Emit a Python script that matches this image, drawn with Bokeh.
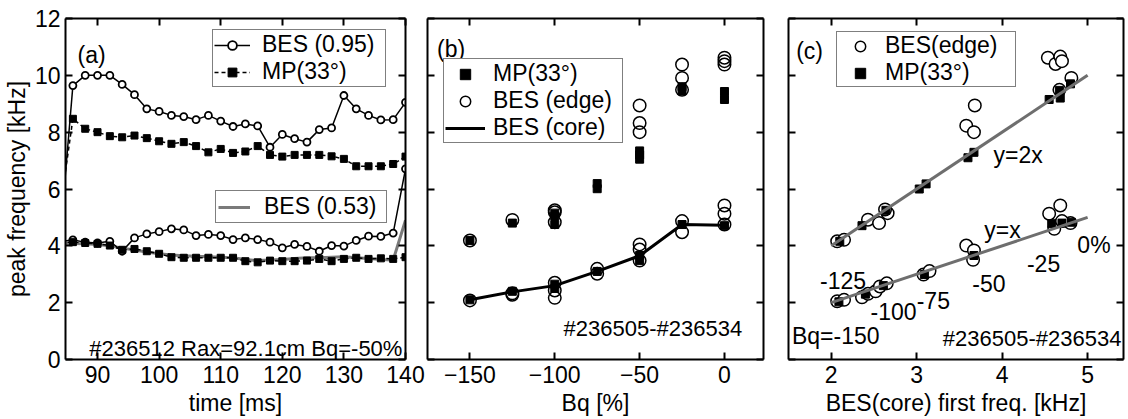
from bokeh.plotting import figure
from bokeh.models import (Range1d, LinearAxis, FixedTicker, Legend, LegendItem,
                          CustomJSTickFormatter)
from bokeh.layouts import row
from bokeh.embed import file_html
from bokeh.resources import INLINE
from bokeh.core.properties import value

FONT = "Liberation Sans"

# ---------------- panel (a): time traces, shot #236512 ----------------
time_ms = [84, 86, 88, 90, 92, 94, 96, 98, 100, 102, 104, 106, 108, 110, 112,
           114, 116, 118, 120, 122, 124, 126, 128, 130, 132, 134, 136, 138, 140]
bes095_hi = [4.5, 9.64, 10.0, 10.0, 10.0, 9.68, 9.32, 8.82, 8.73, 8.59, 8.55, 8.44,
             8.59, 8.39, 8.20, 8.29, 8.22, 7.47, 7.92, 7.77, 7.65, 8.09, 8.15, 9.29,
             8.82, 8.59, 8.43, 8.44, 9.05]
mp_hi = [5.4, 8.47, 8.12, 8.00, 7.86, 7.82, 7.88, 7.79, 7.68, 7.59, 7.65, 7.51,
         7.29, 7.41, 7.27, 7.32, 7.51, 7.20, 7.14, 7.20, 7.20, 7.20, 7.15, 7.06,
         6.80, 6.80, 6.80, 6.88, 7.14]
bes095_lo = [4.15, 4.21, 4.13, 4.10, 4.16, 3.81, 4.28, 4.42, 4.50, 4.60, 4.56, 4.36,
             4.40, 4.36, 4.22, 4.28, 4.22, 4.13, 3.93, 4.05, 3.98, 3.81, 4.01, 3.99,
             4.19, 4.34, 4.33, 4.45, 6.71]
mp_lo = [4.12, 4.13, 4.10, 4.07, 4.01, 3.86, 3.89, 3.81, 3.72, 3.60, 3.58, 3.58,
         3.58, 3.58, 3.58, 3.46, 3.42, 3.48, 3.46, 3.46, 3.48, 3.54, 3.46, 3.54,
         3.58, 3.54, 3.56, 3.54, 3.60]
bes053 = [4.10, 4.08, 4.07, 4.05, 4.00, 3.92, 3.85, 3.78, 3.72, 3.68, 3.65, 3.63,
          3.62, 3.60, 3.58, 3.52, 3.48, 3.50, 3.52, 3.55, 3.58, 3.58, 3.60, 3.62,
          3.58, 3.55, 3.52, 3.50, 4.90]

# ---------------- panel (b): vs Bq ----------------
bq_mp = [-150, -150, -125, -125, -100, -100, -100, -100, -100, -75, -75, -75,
         -50, -50, -50, -50, -50, -25, -25, -25, 0, 0, 0]
mp_b = [4.19, 2.10, 4.80, 2.40, 5.15, 5.05, 4.75, 2.65, 2.50, 6.19, 6.01, 3.10,
        7.34, 7.20, 7.05, 3.66, 3.48, 9.60, 9.45, 4.75, 9.43, 9.15, 4.71]
bq_edge = [-150, -150, -125, -125, -125, -100, -100, -100, -100, -100, -100,
           -75, -75, -50, -50, -50, -50, -50, -50, -25, -25, -25, -25, -25,
           0, 0, 0, 0, 0, 0]
edge_b = [4.19, 2.08, 4.91, 2.33, 2.28, 5.25, 5.18, 4.83, 2.70, 2.43, 2.17,
          3.19, 3.02, 8.94, 8.32, 8.00, 4.05, 3.87, 3.48, 10.38, 9.91, 9.49, 4.87, 4.48,
          10.62, 10.50, 10.38, 5.42, 5.13, 4.75]
bq_core = [-150, -125, -100, -75, -50, -25, 0]
core_b = [2.10, 2.38, 2.60, 3.10, 3.65, 4.75, 4.72]

# ---------------- panel (c): vs BES(core) first freq ----------------
core_c_edge = [2.07, 2.15, 2.43, 2.56, 2.66, 2.63, 3.68, 3.58, 3.67, 4.535, 4.625, 4.68,
               4.70, 4.81, 4.67,
               2.07, 2.15, 2.36, 2.43, 2.52, 2.57, 2.65, 3.08, 3.15, 3.58, 3.67, 3.66,
               4.55, 4.68, 4.61, 4.80, 4.70]
edge_c = [4.16, 4.21, 4.92, 4.80, 5.15, 5.28, 8.94, 8.23, 8.00, 10.62, 10.40, 10.66,
          10.50, 9.91, 9.49,
          2.05, 2.10, 2.19, 2.31, 2.40, 2.57, 2.68, 2.99, 3.11, 4.01, 3.84, 3.51,
          5.13, 5.42, 4.60, 4.80, 4.87]
core_c_mp = [2.10, 2.36, 2.64, 3.03, 3.11, 3.60, 3.67, 4.55, 4.67, 4.68, 4.80,
             2.09, 2.40, 2.61, 3.09, 3.67, 4.58, 4.70, 4.81]
mp_c = [4.16, 4.71, 5.25, 6.00, 6.18, 7.10, 7.29, 9.15, 9.47, 9.20, 9.70,
        2.03, 2.30, 2.60, 2.99, 3.66, 4.78, 4.80, 4.83]
fit_x = [2.0, 5.0]
fit_2x = [4.0, 10.0]
fit_1x = [2.0, 5.0]

y_ticks = [0, 2, 4, 6, 8, 10, 12]


def make_axis(ticks, show_labels, label=None, standoff=4, label_standoff=2):
    ax = LinearAxis(ticker=FixedTicker(ticks=ticks))
    ax.axis_line_width = 2
    ax.axis_line_color = "black"
    ax.major_tick_in = 7
    ax.major_tick_out = 0
    ax.major_tick_line_width = 2
    ax.major_tick_line_color = "black"
    ax.minor_tick_line_color = None
    ax.major_label_text_font = FONT
    ax.major_label_text_color = "black"
    ax.major_label_text_line_height = 1.0
    if show_labels:
        ax.major_label_text_font_size = "23px"
        ax.major_label_standoff = standoff
    else:
        ax.formatter = CustomJSTickFormatter(code="return ''")
        ax.major_label_text_font_size = "0px"
        ax.major_label_standoff = 0
    if label:
        ax.axis_label = label
        ax.axis_label_text_font = FONT
        ax.axis_label_text_font_size = "23px"
        ax.axis_label_text_font_style = "normal"
        ax.axis_label_text_color = "black"
        ax.axis_label_text_line_height = 1.0
        ax.axis_label_standoff = label_standoff
    return ax


def make_panel(xr, xticks, width, left, right, xlabel, ylabel=None):
    p = figure(width=width, height=419, x_range=Range1d(*xr), y_range=Range1d(0, 12),
               x_axis_type=None, y_axis_type=None, output_backend="svg",
               toolbar_location=None, min_border_left=left, min_border_right=right,
               min_border_top=18, min_border_bottom=60)
    p.outline_line_color = None
    p.background_fill_color = "white"
    p.border_fill_color = "white"
    p.add_layout(make_axis(xticks, True, xlabel, 6, 4), "below")
    p.add_layout(make_axis(xticks, False), "above")
    p.add_layout(make_axis(y_ticks, ylabel is not None, ylabel, 5, 2), "left")
    p.add_layout(make_axis(y_ticks, False), "right")
    return p


def add_text(p, x, y, s, size="23px", align="left"):
    p.text(x=[x], y=[y], text=[s], text_font=value(FONT), text_font_size=size,
           text_color="black", text_align=align, text_baseline="alphabetic")


def make_legend(items, loc, glyph_w, glyph_h, label_h, standoff, label_w, pad):
    lg = Legend(items=items, location=loc)
    lg.border_line_color = "black"
    lg.border_line_width = 1.5
    lg.background_fill_color = "white"
    lg.background_fill_alpha = 1
    lg.label_text_font = FONT
    lg.label_text_font_size = "23px"
    lg.label_text_color = "black"
    lg.label_text_line_height = 1.0
    lg.glyph_width = glyph_w
    lg.glyph_height = glyph_h
    lg.label_height = label_h
    lg.label_standoff = standoff
    lg.label_width = label_w
    lg.padding = pad
    lg.margin = 0
    lg.spacing = 0
    return lg


# ---------------- build (a) ----------------
pa = make_panel((84.8, 140), [90, 100, 110, 120, 130, 140], 425, 65, 20,
                "time [ms]", "peak frequency [kHz]")
g053 = pa.line(time_ms, bes053, line_color="#7a7a7a", line_width=3)
lb_hi = pa.line(time_ms, bes095_hi, line_color="black", line_width=1.5)
sb_hi = pa.scatter(time_ms, bes095_hi, marker="circle", size=7, fill_color="white",
                   line_color="black", line_width=1.8)
pa.line(time_ms, bes095_lo, line_color="black", line_width=1.5)
pa.scatter(time_ms, bes095_lo, marker="circle", size=7, fill_color="white",
           line_color="black", line_width=1.8)
lm_hi = pa.line(time_ms, mp_hi, line_color="black", line_width=1.5, line_dash="4 3")
sm_hi = pa.scatter(time_ms, mp_hi, marker="square", size=7, fill_color="black",
                   line_color="black")
pa.line(time_ms, mp_lo, line_color="black", line_width=1.5, line_dash="4 3")
pa.scatter(time_ms, mp_lo, marker="square", size=7, fill_color="black", line_color="black")

pa.add_layout(make_legend([LegendItem(label="BES (0.95)", renderers=[lb_hi, sb_hi]),
                           LegendItem(label="MP(33°)", renderers=[lm_hi, sm_hi])],
                          (147, 272), 36, 22, 26, 12, 122, 1))
pa.add_layout(make_legend([LegendItem(label="BES (0.53)", renderers=[g053])],
                          (150, 136), 32, 22, 27, 14, 120, 2))
add_text(pa, 86.75, 10.70, "(a)")
add_text(pa, 139.5, 0.38, "#236512 Rax=92.1cm Bq=-50%", size="22px", align="right")

# ---------------- build (b) ----------------
pb = make_panel((-175, 23), [-150, -100, -50, 0], 361, 2, 23, "Bq [%]")
cb = pb.scatter(bq_edge, edge_b, marker="circle", size=12.5, fill_color=None,
                line_color="black", line_width=1.5)
lc = pb.line(bq_core, core_b, line_color="black", line_width=3)
sb = pb.scatter(bq_mp, mp_b, marker="square", size=8, fill_color="black",
                line_color="black")
pb.add_layout(make_legend([LegendItem(label="MP(33°)", renderers=[sb]),
                           LegendItem(label="BES (edge)", renderers=[cb]),
                           LegendItem(label="BES (core)", renderers=[lc])],
                          (16, 216), 40, 26, 26, 8, 128, 1))
add_text(pb, -169.4, 10.93, "(b)")
add_text(pb, 10.4, 1.08, "#236505-#236534", size="22px", align="right")

# ---------------- build (c) ----------------
pc = make_panel((1.5, 5.42), [2, 3, 4, 5], 342, 2, 5, "BES(core) first freq. [kHz]")
cc = pc.scatter(core_c_edge, edge_c, marker="circle", size=12.5, fill_color="white",
                line_color="black", line_width=1.5)
sc = pc.scatter(core_c_mp, mp_c, marker="square", size=8, fill_color="black",
                line_color="black")
pc.line(fit_x, fit_2x, line_color="#6e6e6e", line_width=3)
pc.line(fit_x, fit_1x, line_color="#6e6e6e", line_width=3)
pc.add_layout(make_legend([LegendItem(label="BES(edge)", renderers=[cc]),
                           LegendItem(label="MP(33°)", renderers=[sc])],
                          (48, 272), 46, 26, 24, 2, 130, 0))
add_text(pc, 1.59, 10.87, "(c)")
add_text(pc, 3.90, 7.18, "y=2x")
add_text(pc, 3.79, 4.57, "y=x")
add_text(pc, 4.88, 4.04, "0%")
add_text(pc, 4.29, 3.37, "-25")
add_text(pc, 3.65, 2.66, "-50")
add_text(pc, 3.00, 2.08, "-75")
add_text(pc, 2.46, 1.69, "-100")
add_text(pc, 1.87, 2.78, "-125")
add_text(pc, 1.54, 0.81, "Bq=-150")
add_text(pc, 5.395, 0.74, "#236505-#236534", size="22px", align="right")

layout = row(pa, pb, pc)
open("out.html", "w").write(file_html(layout, INLINE, title="peak frequency"))
